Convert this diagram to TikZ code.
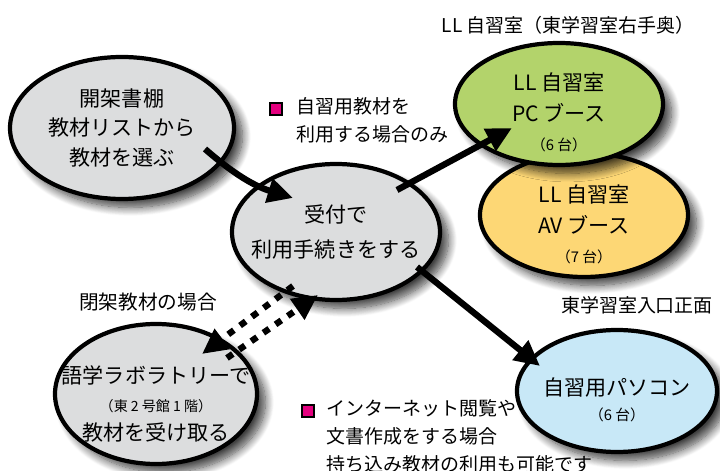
\documentclass[tikz,border=0pt]{standalone}
\usepackage{fontspec}
\setmainfont{Noto Sans CJK JP}
\usepackage{tikz}
\usetikzlibrary{positioning,arrows.meta,shapes.geometric,shadows.blur}
\definecolor{gray1}{HTML}{DCDDDE}
\definecolor{green1}{HTML}{B3D36B}
\definecolor{yellow1}{HTML}{FDD775}
\definecolor{blue1}{HTML}{C8E8F7}
\definecolor{magenta1}{HTML}{E4007F}

\begin{document}
\begin{tikzpicture}[
    room/.style={ellipse, draw, line width=3pt, inner sep=-0.8cm,
                 align=center, font=\fontsize{15}{21}\selectfont,
                 blur shadow={shadow xshift=6pt, shadow yshift=-6pt,
                              shadow blur radius=6pt,
                              shadow blur steps=12, shadow opacity=75}},
    arr/.style={-{Triangle[length=18pt,width=17pt]}, line width=4.5pt},
    dotarr/.style={arr, dash pattern=on 5pt off 5.5pt},
    lbl/.style={font=\fontsize{13.5}{20}\selectfont, inner sep=0pt},
    bullet/.style={draw, fill=magenta1, line width=1.5pt,
                   minimum size=0.3cm, inner sep=0pt},
]
\useasboundingbox (0,0) rectangle (18,11.775);

% rooms
\node[room, fill=gray1, minimum width=5.6cm, minimum height=3.55cm]
    (shelf) at (3.05,8.575) {開架書棚\\教材リストから\\教材を選ぶ};
\node[room, fill=gray1, minimum width=5.2cm, minimum height=3.4cm]
    (desk) at (8.4,5.975) {受付で\\[4pt]利用手続きをする};
\node[room, fill=blue1, minimum width=5.0cm, minimum height=3.05cm,
      text height=43pt]
    (pc) at (15.425,2.0)
    {自習用パソコン\\[-3pt]{\fontsize{10.5}{12}\selectfont （6 台）}};
\node[room, fill=gray1, minimum width=5.05cm, minimum height=3.5cm,
      text height=68pt]
    (lab) at (3.9,1.925)
    {語学ラボラトリーで\\[-1pt]{\fontsize{10}{12}\selectfont （東 2 号館 1 階）}\\[0pt]教材を受け取る};
\node[room, fill=yellow1, minimum width=5.2cm, minimum height=3.1cm,
      text height=69pt]
    (av) at (14.6,6.4)
    {LL 自習室\\[1pt]AV ブース\\[0pt]{\fontsize{10.5}{12}\selectfont （7 台）}};
\node[room, fill=green1, minimum width=5.2cm, minimum height=3.05cm,
      text height=67.5pt]
    (booth) at (13.975,9.175)
    {LL 自習室\\[1pt]PC ブース\\[0pt]{\fontsize{10.5}{12}\selectfont （6 台）}};

% labels
\node[lbl] (llnote) at (14.2,11.15) {LL 自習室（東学習室右手奥）};
\node[lbl, font=\fontsize{14}{20}\selectfont]
    (closed) at (3.7,4.225) {閉架教材の場合};
\node[lbl] (front) at (15.925,4.15) {東学習室入口正面};
\node[lbl, align=left, anchor=north west]
    (note1) at (7.4,9.35) {自習用教材を\\利用する場合のみ};
\node[bullet] (mark1) at (6.9,9.05) {};
\node[lbl, align=left, anchor=north west]
    (note2) at (8.15,1.8) {インターネット閲覧や\\文書作成をする場合\\持ち込み教材の利用も可能です};
\node[bullet] (mark2) at (7.7,1.5) {};

% arrows
\coordinate (a1s) at (5.125,8.05);
\coordinate (a1e) at (7.325,6.825);
\coordinate (a2s) at (9.925,7.025);
\coordinate (a2e) at (12.8,8.575);
\coordinate (a3s) at (10.425,5.1);
\coordinate (a3e) at (13.5,2.625);
\coordinate (d1s) at (7.325,4.625);
\coordinate (d1e) at (5.05,2.925);
\coordinate (d2s) at (5.675,2.825);
\coordinate (d2e) at (7.95,4.4);

\draw[arr] (a1s) to[bend right=12] (a1e);
\draw[arr] (a2s) -- (a2e);
\draw[arr] (a3s) -- (a3e);
\draw[dotarr] (d1s) -- (d1e);
\draw[dotarr] (d2s) -- (d2e);
\end{tikzpicture}
\end{document}
